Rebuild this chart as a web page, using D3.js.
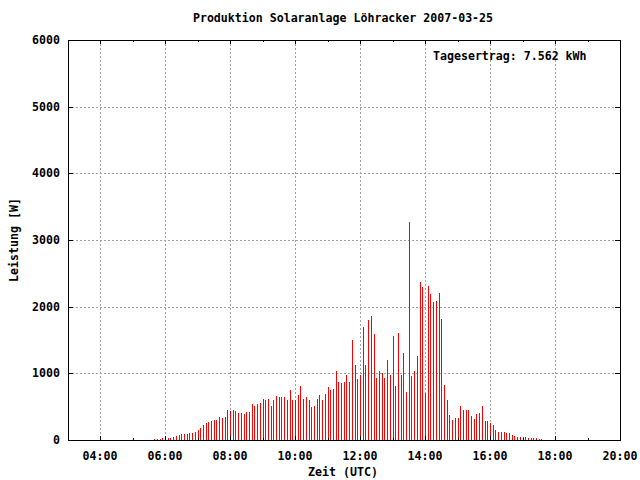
<!DOCTYPE html>
<html><head><meta charset="utf-8">
<script src="https://cdn.jsdelivr.net/npm/d3@7"></script>
<style>
body{margin:0;background:#fff}
svg{display:block}
text{font-family:"DejaVu Sans Mono",monospace;font-weight:bold;font-size:11.6px;fill:#000}
</style>
</head><body><svg id="c" width="640" height="480"></svg>
<script>
const times = [
"05:40","05:45","05:50","05:55",
"06:00","06:05","06:10","06:15","06:20","06:25","06:30","06:35","06:40","06:45","06:50","06:55",
"07:00","07:05","07:10","07:15","07:20","07:25","07:30","07:35","07:40","07:45","07:50","07:55",
"08:00","08:05","08:10","08:15","08:20","08:25","08:30","08:35","08:40","08:45","08:50","08:55",
"09:00","09:05","09:10","09:15","09:20","09:25","09:30","09:35","09:40","09:45","09:50","09:55",
"10:00","10:05","10:10","10:15","10:20","10:25","10:30","10:35","10:40","10:45","10:50","10:55",
"11:00","11:05","11:10","11:15","11:20","11:25","11:30","11:35","11:40","11:45","11:50","11:55",
"12:00","12:05","12:10","12:15","12:20","12:25","12:30","12:35","12:40","12:45","12:50","12:55",
"13:00","13:05","13:10","13:15","13:20","13:25","13:30","13:35","13:40","13:45","13:50","13:55",
"14:00","14:05","14:10","14:15","14:20","14:25","14:30","14:35","14:40","14:45","14:50","14:55",
"15:00","15:05","15:10","15:15","15:20","15:25","15:30","15:35","15:40","15:45","15:50","15:55",
"16:00","16:05","16:10","16:15","16:20","16:25","16:30","16:35","16:40","16:45","16:50","16:55",
"17:00","17:05","17:10","17:15","17:20","17:25","17:30","17:35"
];
const watts = [
15,15,15,35,
40,35,35,50,65,80,95,95,95,110,110,125,
155,185,230,260,275,290,305,305,350,335,350,455,
440,455,440,410,410,395,425,425,545,515,545,555,
615,600,615,510,600,660,645,645,645,600,750,600,
600,675,810,615,645,600,495,510,615,675,600,690,
795,750,765,1035,870,855,870,975,870,1500,1125,915,
975,1695,1125,1800,1860,1590,930,1035,1005,930,1200,975,
1560,810,1605,975,1305,720,3270,960,1035,1260,2370,2295,
705,2310,2190,2070,2085,2205,1815,825,600,375,300,330,
330,510,450,450,450,360,315,390,405,510,285,285,
255,225,150,120,120,120,105,105,75,60,45,45,
45,45,30,30,30,30,15,15
];
const yTickValues = [0,1000,2000,3000,4000,5000,6000];
const day = "2007-03-25";
const xStart = "03:00", xEnd = "20:00";
const titleText = "Produktion Solaranlage Löhracker 2007-03-25";
const yieldText = "Tagesertrag: 7.562 kWh";
const xLabel = "Zeit (UTC)";
const yLabel = "Leistung [W]";

const parse = d3.utcParse("%Y-%m-%d %H:%M");
const fmt = d3.utcFormat("%H:%M");
const L = 68, R = 620, T = 40, B = 440;
const x = d3.scaleUtc().domain([parse(day+" "+xStart), parse(day+" "+xEnd)]).range([67.5, R]);
const y = d3.scaleLinear().domain([0, 6000]).range([B, T]);
const svg = d3.select("#c");
const px = v => Math.round(v) + 0.5;

const majorX = x.ticks(d3.utcHour.every(2));
const minorX = x.ticks(d3.utcHour.every(1)).filter(t => t.getUTCHours() % 2 === 1 && x(t) > L && x(t) < R);

// grid
const grid = svg.append("g").attr("stroke", "#a0a0a0").attr("stroke-width", 1).attr("stroke-dasharray", "2,2");
grid.selectAll("line.vx").data(majorX.filter(t => x(t) > L + 1 && x(t) < R - 1)).join("line")
  .attr("x1", d => px(x(d))).attr("x2", d => px(x(d))).attr("y1", T).attr("y2", B);
grid.selectAll("line.hy").data(yTickValues.filter(v => v > 0 && v < 6000)).join("line")
  .attr("x1", L).attr("x2", R).attr("y1", d => px(y(d))).attr("y2", d => px(y(d)));

// bars (impulses)
const data = times.map((t, i) => ({t: parse(day + " " + t), v: watts[i]}));
svg.append("g").selectAll("line").data(data).join("line")
  .attr("x1", d => px(x(d.t))).attr("x2", d => px(x(d.t)))
  .attr("y1", B).attr("y2", d => Math.round(y(d.v)))
  .attr("stroke", "#ff0000").attr("stroke-width", 1);

// ticks
const tk = svg.append("g").attr("stroke", "#000").attr("stroke-width", 1);
majorX.filter(t => x(t) > L + 1 && x(t) < R - 1).forEach(t => {
  tk.append("line").attr("x1", px(x(t))).attr("x2", px(x(t))).attr("y1", B).attr("y2", B - 4);
  tk.append("line").attr("x1", px(x(t))).attr("x2", px(x(t))).attr("y1", T).attr("y2", T + 4);
});
minorX.forEach(t => {
  tk.append("line").attr("x1", px(x(t))).attr("x2", px(x(t))).attr("y1", B).attr("y2", B - 2);
  tk.append("line").attr("x1", px(x(t))).attr("x2", px(x(t))).attr("y1", T).attr("y2", T + 2);
});
yTickValues.filter(v => v > 0 && v < 6000).forEach(v => {
  tk.append("line").attr("x1", L).attr("x2", L + 5).attr("y1", px(y(v))).attr("y2", px(y(v)));
  tk.append("line").attr("x1", R).attr("x2", R - 5).attr("y1", px(y(v))).attr("y2", px(y(v)));
});

// border
svg.append("rect").attr("x", L + 0.5).attr("y", T + 0.5).attr("width", R - L).attr("height", B - T)
  .attr("fill", "none").attr("stroke", "#000").attr("stroke-width", 1);

// tick labels
svg.append("g").selectAll("text").data(majorX).join("text")
  .attr("x", d => x(d)).attr("y", 460).attr("text-anchor", "middle").text(d => fmt(d));
svg.append("g").selectAll("text").data(yTickValues).join("text")
  .attr("x", 60).attr("y", d => y(d) + 4).attr("text-anchor", "end").text(d => d);

// titles
svg.append("text").attr("x", 343).attr("y", 22).attr("text-anchor", "middle").text(titleText);
svg.append("text").attr("x", 433).attr("y", 60).text(yieldText);
svg.append("text").attr("x", 343).attr("y", 476).attr("text-anchor", "middle").text(xLabel);
svg.append("text").attr("transform", "translate(17.5,240) rotate(-90)").attr("text-anchor", "middle").text(yLabel);
</script>
</body></html>
